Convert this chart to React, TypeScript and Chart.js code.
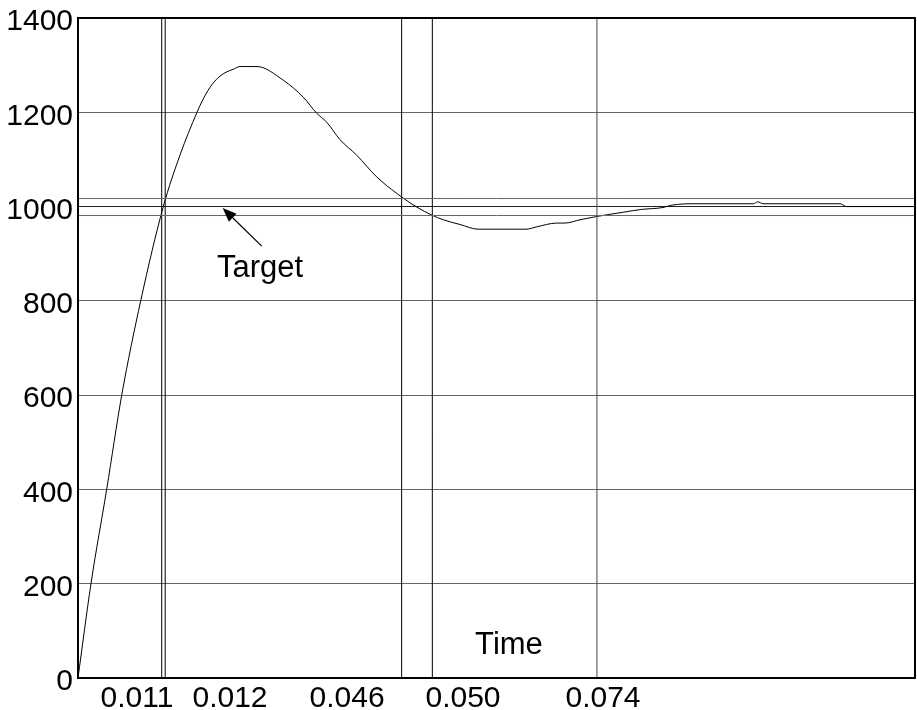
import React, { useEffect, useRef } from "react";
import { Chart, registerables } from "chart.js";

Chart.register(...registerables);

// Response curve: time (s) vs value
const curveTime = [
  0, 0.00186, 0.00411, 0.00627, 0.00899, 0.01223, 0.01462, 0.01706, 0.01774, 0.01893,
  0.02007, 0.02122, 0.02222, 0.02323, 0.02566, 0.02943, 0.0323, 0.03422, 0.03566, 0.03756,
  0.03996, 0.04282, 0.04569, 0.0476, 0.04856, 0.05071, 0.05237, 0.05477, 0.05739, 0.06423,
  0.06576, 0.06863, 0.06982, 0.07197, 0.07437, 0.07818, 0.08082, 0.08387, 0.08512, 0.08846,
  0.09682, 0.09745, 0.09825, 0.10925, 0.11021, 0.12,
];
const curveValue = [
  0, 200, 400, 600, 800, 1000, 1109, 1200, 1222, 1253,
  1273, 1285, 1291, 1297, 1297, 1268, 1232, 1198, 1179, 1142,
  1109, 1063, 1028, 1008, 999, 982, 972, 962, 952, 952,
  957, 965, 965, 972, 979, 988, 994, 998, 1003, 1006,
  1006, 1010, 1006, 1006, 1000, 1000,
];

// Marker lines
const markerTimes = [0.012, 0.0125, 0.0464, 0.0508, 0.0744];
const bandValues = [1017, 981];

// X tick labels and their positions
const xTickLabels = ["0.011", "0.012", "0.046", "0.050", "0.074"];
const xTickPositions = [0.00846, 0.02179, 0.03857, 0.0552, 0.07527];

const xMin = 0;
const xMax = 0.12;
const yMin = 0;
const yMax = 1400;
const yStep = 200;

// Annotations
const targetLabel = "Target";
const targetText = { x: 0.02609, y: 851 };
const arrowTail = { x: 0.02634, y: 916 };
const arrowTip = { x: 0.02074, y: 997 };
const timeLabel = "Time";
const timeText = { x: 0.06179, y: 50 };

const FONT = "'Liberation Sans', Arial, sans-serif";

export default function App() {
  const ref = useRef<HTMLCanvasElement | null>(null);

  useEffect(() => {
    if (!ref.current) return;

    const annotate = {
      id: "annotate",
      afterDraw(chart: any) {
        const { ctx, chartArea, scales } = chart;
        const xs = scales.x;
        const ys = scales.y;
        ctx.save();
        // frame
        ctx.strokeStyle = "#000";
        ctx.lineWidth = 2;
        ctx.strokeRect(chartArea.left, chartArea.top, chartArea.right - chartArea.left, chartArea.bottom - chartArea.top);
        // texts
        ctx.fillStyle = "#000";
        ctx.font = `31px ${FONT}`;
        ctx.textAlign = "center";
        ctx.textBaseline = "alphabetic";
        ctx.fillText(targetLabel, xs.getPixelForValue(targetText.x), ys.getPixelForValue(targetText.y));
        ctx.fillText(timeLabel, xs.getPixelForValue(timeText.x), ys.getPixelForValue(timeText.y));
        // arrow
        const tx = xs.getPixelForValue(arrowTail.x);
        const ty = ys.getPixelForValue(arrowTail.y);
        const hx = xs.getPixelForValue(arrowTip.x);
        const hy = ys.getPixelForValue(arrowTip.y);
        const ang = Math.atan2(hy - ty, hx - tx);
        const len = 14;
        const hw = 5.5;
        const bx = hx - len * Math.cos(ang);
        const by = hy - len * Math.sin(ang);
        ctx.strokeStyle = "#000";
        ctx.lineWidth = 1.2;
        ctx.beginPath();
        ctx.moveTo(tx, ty);
        ctx.lineTo(bx, by);
        ctx.stroke();
        ctx.beginPath();
        ctx.moveTo(hx, hy);
        ctx.lineTo(bx + hw * Math.sin(ang), by - hw * Math.cos(ang));
        ctx.lineTo(bx - hw * Math.sin(ang), by + hw * Math.cos(ang));
        ctx.closePath();
        ctx.fill();
        ctx.restore();
      },
    };

    const datasets: any[] = [];
    bandValues.forEach((v) => {
      datasets.push({
        data: [
          { x: xMin, y: v },
          { x: xMax, y: v },
        ],
        borderColor: "#666",
        borderWidth: 1,
        pointRadius: 0,
      });
    });
    markerTimes.forEach((t, i) => {
      datasets.push({
        data: [
          { x: t, y: yMin },
          { x: t, y: yMax },
        ],
        borderColor: i === 4 ? "#444" : "#000",
        borderWidth: 1,
        pointRadius: 0,
      });
    });
    datasets.push({
      data: curveTime.map((t, i) => ({ x: t, y: curveValue[i] })),
      borderColor: "#000",
      borderWidth: 1,
      pointRadius: 0,
      cubicInterpolationMode: "monotone",
    });

    const chart = new Chart(ref.current, {
      type: "line",
      data: { datasets },
      options: {
        responsive: false,
        animation: false,
        devicePixelRatio: 1,
        layout: { padding: { top: 18, right: 2, left: 0, bottom: 0 } },
        plugins: { legend: { display: false }, tooltip: { enabled: false } },
        elements: { line: { borderJoinStyle: "round" } },
        scales: {
          x: {
            type: "linear",
            min: xMin,
            max: xMax,
            afterBuildTicks(scale: any) {
              scale.ticks = xTickPositions.map((v) => ({ value: v }));
            },
            afterFit(scale: any) {
              scale.height = 32;
              scale.paddingLeft = 0;
              scale.paddingRight = 0;
            },
            grid: { display: false, drawTicks: false },
            border: { display: true, color: "#000", width: 2 },
            ticks: {
              autoSkip: false,
              maxRotation: 0,
              padding: 3,
              color: "#000",
              font: { family: FONT, size: 30 },
              callback: (v: any, i: number) => xTickLabels[i],
            },
          },
          y: {
            type: "linear",
            min: yMin,
            max: yMax,
            afterFit(scale: any) {
              scale.width = 78;
              scale.paddingTop = 0;
              scale.paddingBottom = 0;
            },
            grid: {
              drawTicks: false,
              color: (c: any) => (c.tick && c.tick.value === 1000 ? "#222" : "#666"),
              lineWidth: 1,
            },
            border: { display: true, color: "#000", width: 2 },
            ticks: {
              stepSize: yStep,
              padding: 5,
              labelOffset: 4,
              color: "#000",
              font: { family: FONT, size: 30 },
              callback: (v: any) => String(v),
            },
          },
        },
      },
      plugins: [annotate],
    });
    return () => chart.destroy();
  }, []);

  return (
    <div style={{ position: "fixed", left: 0, top: 0, width: 917, height: 710, background: "#fff" }}>
      <canvas ref={ref} width={917} height={710} style={{ display: "block" }} />
    </div>
  );
}
